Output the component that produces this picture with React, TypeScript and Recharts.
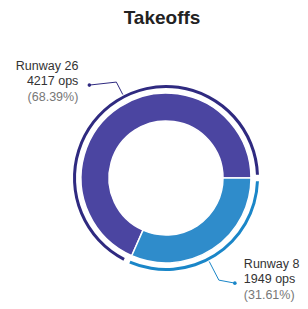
import { PieChart, Pie, Cell } from 'recharts';

const runways = ['Runway 26', 'Runway 8'];
const ops = [4217, 1949];

const fillColors = ['#4b45a1', '#2f8ccb'];
const ringColors = ['#2f2a80', '#1a86c8'];

const RAD = Math.PI / 180;

const data = runways.map((name, i) => ({ name, ops: ops[i] }));
const total = ops.reduce((a, b) => a + b, 0);

// leader line + 3 line label, left side is right aligned
function renderLabel(props: any) {
  const { cx, cy, midAngle, outerRadius, index } = props;
  const ang = midAngle - 5;
  const cos = Math.cos(-ang * RAD);
  const sin = Math.sin(-ang * RAD);
  const r0 = outerRadius + 1;
  const r1 = outerRadius + (index === 0 ? 15 : 22);
  const sx = cx + r0 * cos;
  const sy = cy + r0 * sin;
  const ex = cx + r1 * cos;
  const ey = cy + r1 * sin;
  const right = cos >= 0;
  const dx = ex + (right ? 16 : -27);
  const dy = ey + 3;
  const tx = dx + (right ? 9 : -11);
  const anchor = right ? 'start' : 'end';
  const pct = ((ops[index] / total) * 100).toFixed(2);
  const color = ringColors[index];
  return (
    <g key={`lbl-${index}`}>
      <polyline
        points={`${sx},${sy} ${ex},${ey} ${dx},${dy}`}
        fill="none"
        stroke={color}
        strokeWidth={1}
      />
      <circle cx={dx} cy={dy} r={1.8} fill={color} />
      <text x={tx} y={dy - 15} textAnchor={anchor} fontSize={12.5} fill="#333">
        {runways[index]}
      </text>
      <text x={tx} y={dy} textAnchor={anchor} fontSize={12.5} fill="#333">
        {ops[index]} ops
      </text>
      <text x={tx} y={dy + 16} textAnchor={anchor} fontSize={12.5} fill="#777">
        ({pct}%)
      </text>
    </g>
  );
}

export default function App() {
  return (
    <div
      style={{
        position: 'relative',
        width: 300,
        height: 309,
        margin: '-8px 0 0 -8px',
        fontFamily: '"Liberation Sans", Arial, sans-serif',
      }}
    >
      <div
        style={{
          position: 'absolute',
          top: 8,
          left: 162,
          transform: 'translateX(-50%)',
          whiteSpace: 'nowrap',
          fontSize: 19,
          lineHeight: '19px',
          fontWeight: 'bold',
          color: '#222',
        }}
      >
        Takeoffs
      </div>
      <PieChart width={300} height={309} style={{ position: 'absolute', top: 0, left: 0 }}>
        <Pie
          data={data}
          dataKey="ops"
          nameKey="name"
          cx={161}
          cy={173}
          innerRadius={57}
          outerRadius={85}
          startAngle={0}
          endAngle={360}
          stroke="#fff"
          strokeWidth={1.5}
          isAnimationActive={false}
        >
          {data.map((d, i) => (
            <Cell key={d.name} fill={fillColors[i]} />
          ))}
        </Pie>
        <Pie
          data={data}
          dataKey="ops"
          nameKey="name"
          cx={161}
          cy={173}
          innerRadius={90}
          outerRadius={93}
          startAngle={2}
          endAngle={362}
          paddingAngle={4}
          stroke="none"
          label={renderLabel}
          labelLine={false}
          isAnimationActive={false}
        >
          {data.map((d, i) => (
            <Cell key={d.name} fill={ringColors[i]} />
          ))}
        </Pie>
      </PieChart>
    </div>
  );
}
